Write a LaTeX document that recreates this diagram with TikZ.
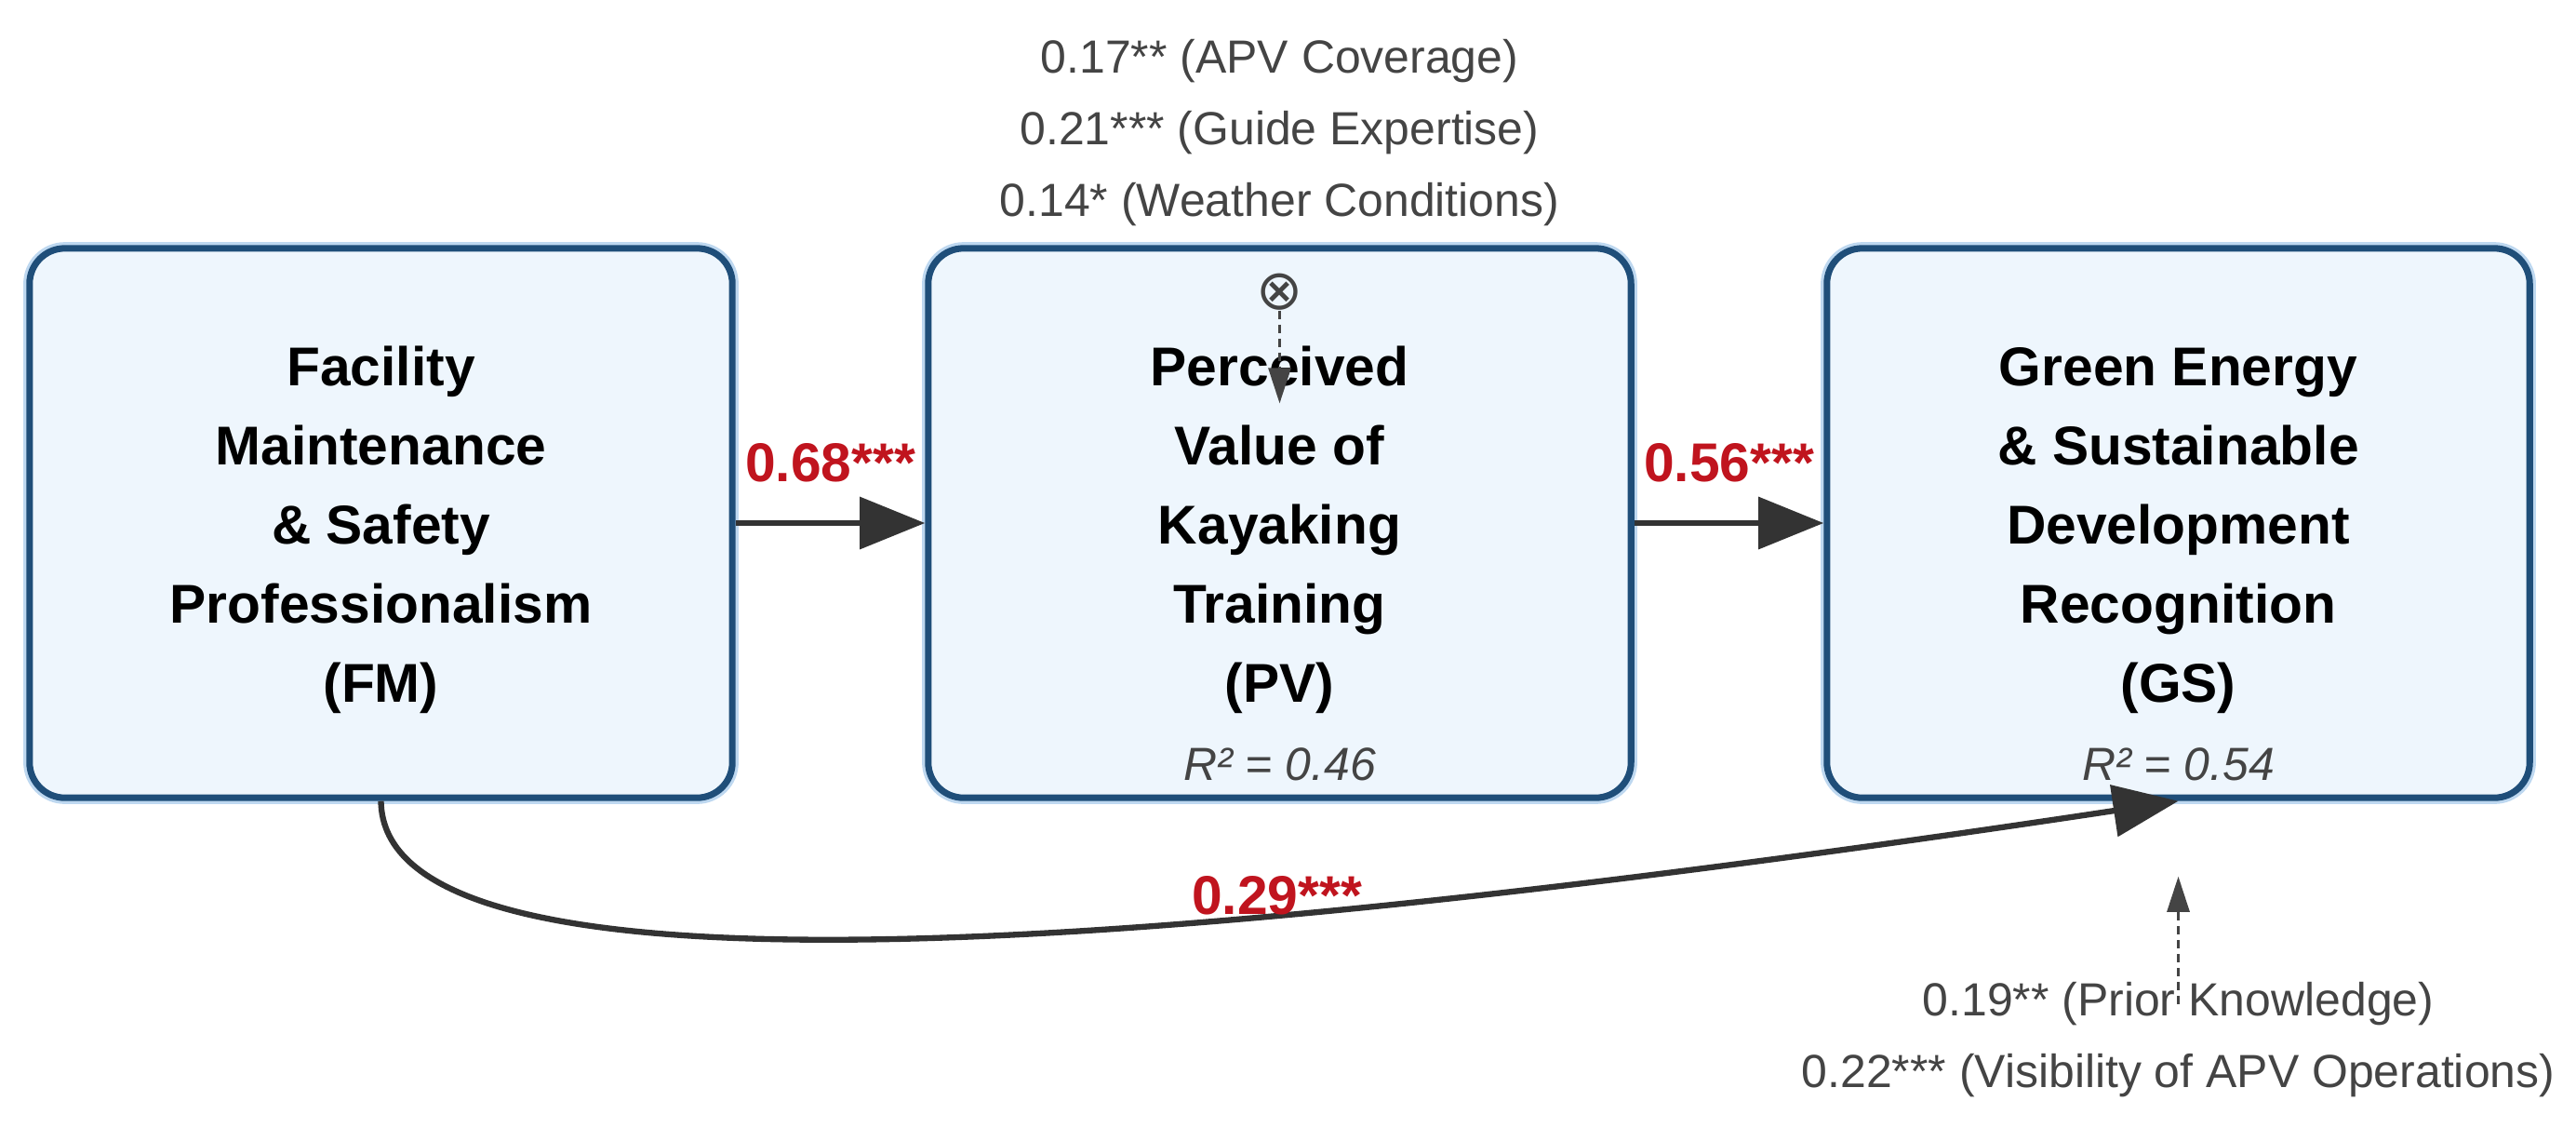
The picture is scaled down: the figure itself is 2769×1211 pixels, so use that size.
\documentclass[tikz,border=0pt]{standalone}
\usepackage{fontspec}
\setmainfont{Liberation Sans}
\newfontfamily\symfont{DejaVu Sans}
\usetikzlibrary{arrows.meta}
\definecolor{boxfill}{RGB}{238,246,253}
\definecolor{boxline}{RGB}{31,78,121}
\definecolor{halo}{RGB}{190,216,240}
\definecolor{pathred}{RGB}{192,20,30}
\definecolor{arrowgray}{RGB}{51,51,51}
\definecolor{notegray}{RGB}{68,68,68}
\newcommand{\topstrut}{\rule{0pt}{16.2pt}}
\begin{document}
\begin{tikzpicture}[x=0.01cm,y=-0.01cm,
  construct/.style={draw=boxline, line width=2pt, fill=boxfill, rounded corners=0.38cm,
    minimum width=7.55cm, minimum height=5.9cm, align=center, inner sep=0pt,
    font=\fontsize{16.7pt}{24.2pt}\selectfont\bfseries, text=black,
    preaction={draw=halo, line width=3.8pt}},
  mainarrow/.style={draw=arrowgray, line width=1.8pt, -{Triangle[length=0.7cm,width=0.55cm]}},
  modarrow/.style={draw=notegray, line width=0.8pt, dash pattern=on 0.09cm off 0.06cm,
    -{Triangle[length=0.38cm,width=0.24cm]}},
  coef/.style={text=pathred, font=\fontsize{16.7pt}{20pt}\selectfont\bfseries, inner sep=0pt},
  note/.style={text=notegray, font=\fontsize{14.2pt}{21.9pt}\selectfont, align=center, inner sep=0pt},
  rsq/.style={text=notegray, font=\fontsize{14.2pt}{17pt}\selectfont\itshape, inner sep=0pt, anchor=base},
  moderator/.style={text=notegray, font=\symfont\fontsize{17pt}{17pt}\selectfont, inner sep=0pt}]
\useasboundingbox (0,0) rectangle (2769,1211);
\fill[white] (0,0) rectangle (2769,1211);

\node[construct] (FM) at (409.5,562) {\topstrut Facility\\Maintenance\\\& Safety\\Professionalism\\(FM)};
\node[construct] (PV) at (1375.5,562) {\topstrut Perceived\\Value of\\Kayaking\\Training\\(PV)};
\node[construct] (GS) at (2341.5,562) {\topstrut Green Energy\\\& Sustainable\\Development\\Recognition\\(GS)};

\node[rsq] (r2PV) at ([yshift=0.22cm]PV.south) {R² = 0.46};
\node[rsq] (r2GS) at ([yshift=0.22cm]GS.south) {R² = 0.54};

\node[note, anchor=south] (modPV) at ([yshift=0.20cm]PV.north)
  {0.17** (APV Coverage)\\0.21*** (Guide Expertise)\\0.14* (Weather Conditions)};
\node[moderator] (times) at ([yshift=-0.50cm]PV.north) {⊗};
\node[note, anchor=north] (modGS) at ([yshift=-1.94cm]GS.south)
  {0.19** (Prior Knowledge)\\0.22*** (Visibility of APV Operations)};

\draw[mainarrow] (FM.east) -- (PV.west) node[coef, midway, anchor=base, yshift=0.44cm] {0.68***};
\draw[mainarrow] (PV.east) -- (GS.west) node[coef, midway, anchor=base, yshift=0.44cm] {0.56***};
\draw[mainarrow] (FM.south) .. controls (412,1075) and (1150,1040) .. (GS.south)
  node[coef, pos=0.69, anchor=base] {0.29***};

\draw[modarrow] (times.south) -- ([yshift=-1.70cm]PV.north);
\draw[modarrow] ([yshift=-0.24cm]modGS.north) -- ([yshift=-0.81cm]GS.south);
\end{tikzpicture}
\end{document}
